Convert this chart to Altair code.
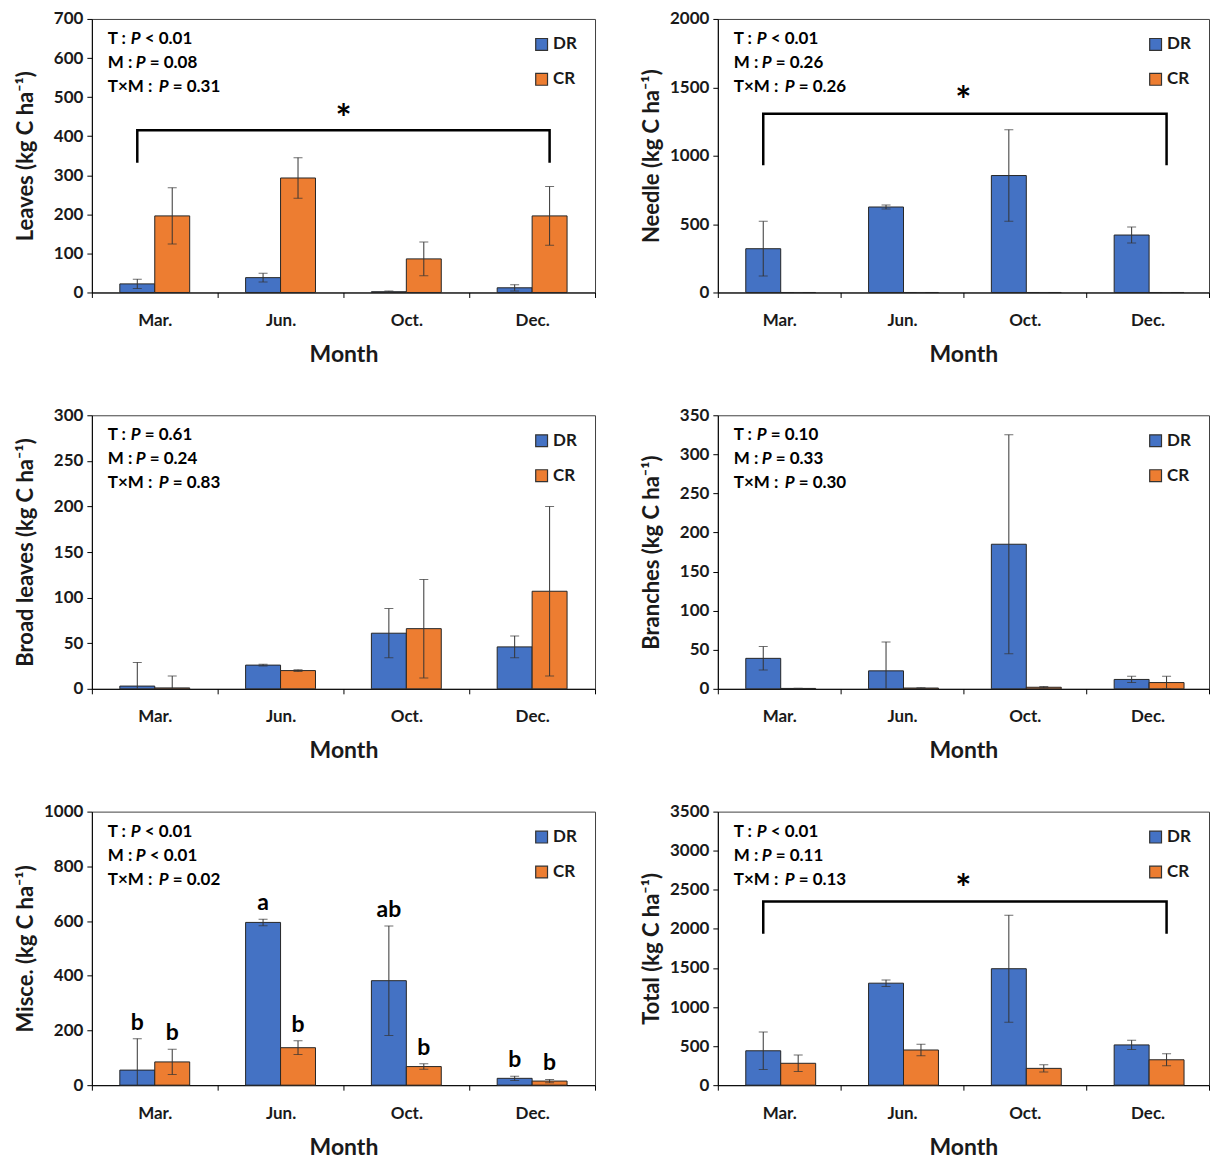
import altair as alt
import pandas as pd

FONT = "Lato"
INK = "#1a1a1a"

months = ["Mar.", "Jun.", "Oct.", "Dec."]
treatments = ["DR", "CR"]
colors = ["#4472C4", "#ED7D31"]
stat_terms = ["T", "M", "T×M"]

# ---- data (mean, error) ----
leaves_dr = [22, 38, 2, 12]
leaves_dr_err = [12, 11, 2, 8]
leaves_cr = [196, 293, 86, 196]
leaves_cr_err = [72, 52, 43, 75]
leaves_p = ["< 0.01", "= 0.08", "= 0.31"]

needle_dr = [320, 625, 855, 420]
needle_dr_err = [200, 15, 335, 58]
needle_cr = [0, 0, 0, 0]
needle_cr_err = [0, 0, 0, 0]
needle_p = ["< 0.01", "= 0.26", "= 0.26"]

broad_dr = [3, 26, 61, 46]
broad_dr_err = [26, 1, 27, 12]
broad_cr = [1, 20, 66, 107]
broad_cr_err = [13, 1, 54, 93]
broad_p = ["= 0.61", "= 0.24", "= 0.83"]

branch_dr = [39, 23, 185, 12]
branch_dr_err = [15, 37, 140, 4]
branch_cr = [0.5, 1, 2, 8]
branch_cr_err = [0.3, 0.5, 1, 8]
branch_p = ["= 0.10", "= 0.33", "= 0.30"]

misc_dr = [55, 595, 382, 25]
misc_dr_err = [115, 12, 200, 8]
misc_cr = [85, 137, 68, 15]
misc_cr_err = [46, 25, 10, 6]
misc_p = ["< 0.01", "< 0.01", "= 0.02"]
misc_letters_dr = ["b", "a", "ab", "b"]
misc_letters_cr = ["b", "b", "b", "b"]

total_dr = [440, 1305, 1490, 515]
total_dr_err = [240, 42, 685, 60]
total_cr = [280, 450, 215, 325]
total_cr_err = [105, 75, 45, 78]
total_p = ["< 0.01", "= 0.11", "= 0.13"]

# significance brackets: (leg bottom, bar top, star height)
leaves_bracket = [332, 415, 465]
needle_bracket = [930, 1307, 1457]
total_bracket = [1937, 2350, 2610]

PLOT_H = 274
PREFIX_W = {"T": 23, "M": 28, "T×M": 51}
P_W = 14


def panel(ytitle, ymax, ystep, dr, dr_err, cr, cr_err, pvals, width,
          bracket=None, letters=None):
    df = pd.DataFrame({
        "month": months * 2,
        "trt": ["DR"] * 4 + ["CR"] * 4,
        "value": dr + cr,
        "err": dr_err + cr_err,
    })
    df["lo"] = df["value"] - df["err"]
    df["hi"] = df["value"] + df["err"]

    xscale = alt.Scale(paddingInner=0, paddingOuter=0)
    xaxis = alt.Axis(title="Month", labelAngle=0, tickBand="extent",
                     labelPadding=15, titlePadding=15)
    x = alt.X("month:N", sort=months, scale=xscale, axis=xaxis)
    xo = alt.XOffset("trt:N", sort=treatments,
                     scale=alt.Scale(paddingInner=0, paddingOuter=0.8))
    yscale = alt.Scale(domain=[0, ymax], nice=False)
    yaxis = alt.Axis(values=list(range(0, ymax + 1, ystep)), grid=False,
                     format="d", minExtent=50, titlePadding=4)

    def Y(field):
        return alt.Y(field, scale=yscale, title=ytitle, axis=yaxis)

    color = alt.Color(
        "trt:N", sort=treatments,
        scale=alt.Scale(domain=treatments, range=colors),
        legend=alt.Legend(orient="none", legendX=width - 62, legendY=17,
                          title=None, symbolType="square", symbolSize=140,
                          symbolStrokeColor="#333333", symbolStrokeWidth=1.2,
                          symbolOpacity=1, labelFontSize=17,
                          labelFontWeight="bold", labelFont=FONT,
                          labelColor=INK, rowPadding=17, labelOffset=3))

    base = alt.Chart(df)
    bars = base.mark_bar(stroke="#262626", strokeWidth=1, opacity=1).encode(
        x=x, xOffset=xo, y=Y("value:Q"), color=color)
    rules = base.mark_rule(color="#333333", strokeWidth=1, clip=True).encode(
        x=x, xOffset=xo, y=Y("lo:Q"), y2="hi:Q")
    cap_hi = base.mark_tick(color="#333333", thickness=1, size=9,
                            clip=True).encode(x=x, xOffset=xo, y=Y("hi:Q"))
    cap_lo = base.mark_tick(color="#333333", thickness=1, size=9,
                            clip=True).encode(x=x, xOffset=xo, y=Y("lo:Q"))

    layers = [bars, rules, cap_hi, cap_lo]

    if bracket is not None:
        low, high, star = bracket
        bdf = pd.DataFrame({
            "month": ["Mar.", "Mar.", "Dec.", "Dec."],
            "trt": ["DR", "DR", "CR", "CR"],
            "yv": [low, high, high, low],
            "ord": [0, 1, 2, 3],
        })
        br = alt.Chart(bdf).mark_line(color="#000000", strokeWidth=2.5).encode(
            x=x, xOffset=xo, y=Y("yv:Q"), order="ord:O")
        sdf = pd.DataFrame({"month": ["Jun."], "yv": [star], "t": ["*"]})
        st = alt.Chart(sdf).mark_text(font=FONT, fontSize=38,
                                      fontWeight="bold", color="#000000",
                                      baseline="middle", dy=10).encode(
            x=alt.X("month:N", sort=months, bandPosition=1,
                    scale=xscale, axis=xaxis),
            y=Y("yv:Q"), text="t:N")
        layers += [br, st]

    if letters is not None:
        ldf = df.copy()
        ldf["letter"] = letters[0] + letters[1]
        lt = alt.Chart(ldf).mark_text(font=FONT, fontSize=23,
                                      fontWeight="bold", color="#000000",
                                      baseline="alphabetic", dy=-9).encode(
            x=x, xOffset=xo, y=Y("hi:Q"), text="letter:N")
        layers.append(lt)

    # statistics text: term, italic P, value
    for i, term in enumerate(stat_terms):
        ypx = 20 + 24 * i
        x0 = 16
        parts = [(term + " : ", x0, "normal"),
                 ("P", x0 + PREFIX_W[term], "italic"),
                 (pvals[i], x0 + PREFIX_W[term] + P_W, "normal")]
        for txt, xp, style in parts:
            layers.append(
                alt.Chart(pd.DataFrame({"t": [txt]})).mark_text(
                    font=FONT, fontSize=17, fontWeight="bold",
                    fontStyle=style, color="#000000", align="left",
                    baseline="middle").encode(
                    x=alt.value(xp), y=alt.value(ypx), text="t:N"))

    return alt.layer(*layers).properties(width=width, height=PLOT_H)


LW, RW = 504, 492
p1 = panel("Leaves (kg C ha⁻¹)", 700, 100, leaves_dr, leaves_dr_err,
           leaves_cr, leaves_cr_err, leaves_p, LW, bracket=leaves_bracket)
p2 = panel("Needle (kg C ha⁻¹)", 2000, 500, needle_dr, needle_dr_err,
           needle_cr, needle_cr_err, needle_p, RW, bracket=needle_bracket)
p3 = panel("Broad leaves (kg C ha⁻¹)", 300, 50, broad_dr, broad_dr_err,
           broad_cr, broad_cr_err, broad_p, LW)
p4 = panel("Branches (kg C ha⁻¹)", 350, 50, branch_dr, branch_dr_err,
           branch_cr, branch_cr_err, branch_p, RW)
p5 = panel("Misce. (kg C ha⁻¹)", 1000, 200, misc_dr, misc_dr_err,
           misc_cr, misc_cr_err, misc_p, LW,
           letters=(misc_letters_dr, misc_letters_cr))
p6 = panel("Total (kg C ha⁻¹)", 3500, 500, total_dr, total_dr_err,
           total_cr, total_cr_err, total_p, RW, bracket=total_bracket)

row1 = alt.hconcat(p1, p2, spacing=44).resolve_scale(color="independent")
row2 = alt.hconcat(p3, p4, spacing=44).resolve_scale(color="independent")
row3 = alt.hconcat(p5, p6, spacing=44).resolve_scale(color="independent")

chart = alt.vconcat(row1, row2, row3, spacing=38).resolve_scale(
    color="independent"
).properties(padding={"left": 6, "top": 0, "right": 2, "bottom": 0}).configure(
    font=FONT,
).configure_view(
    stroke="#404040", strokeWidth=1
).configure_axis(
    labelFont=FONT, labelFontSize=17, labelFontWeight="bold", labelColor=INK,
    titleFont=FONT, titleFontWeight="bold", titleColor=INK,
    domainColor="#000000", domainWidth=1, tickColor="#000000", tickSize=5,
    grid=False,
).configure_axisX(
    titleFontSize=23,
).configure_axisY(
    titleFontSize=22, labelPadding=4,
)

chart.save("out.html", embed_options={"renderer": "svg", "actions": False})
